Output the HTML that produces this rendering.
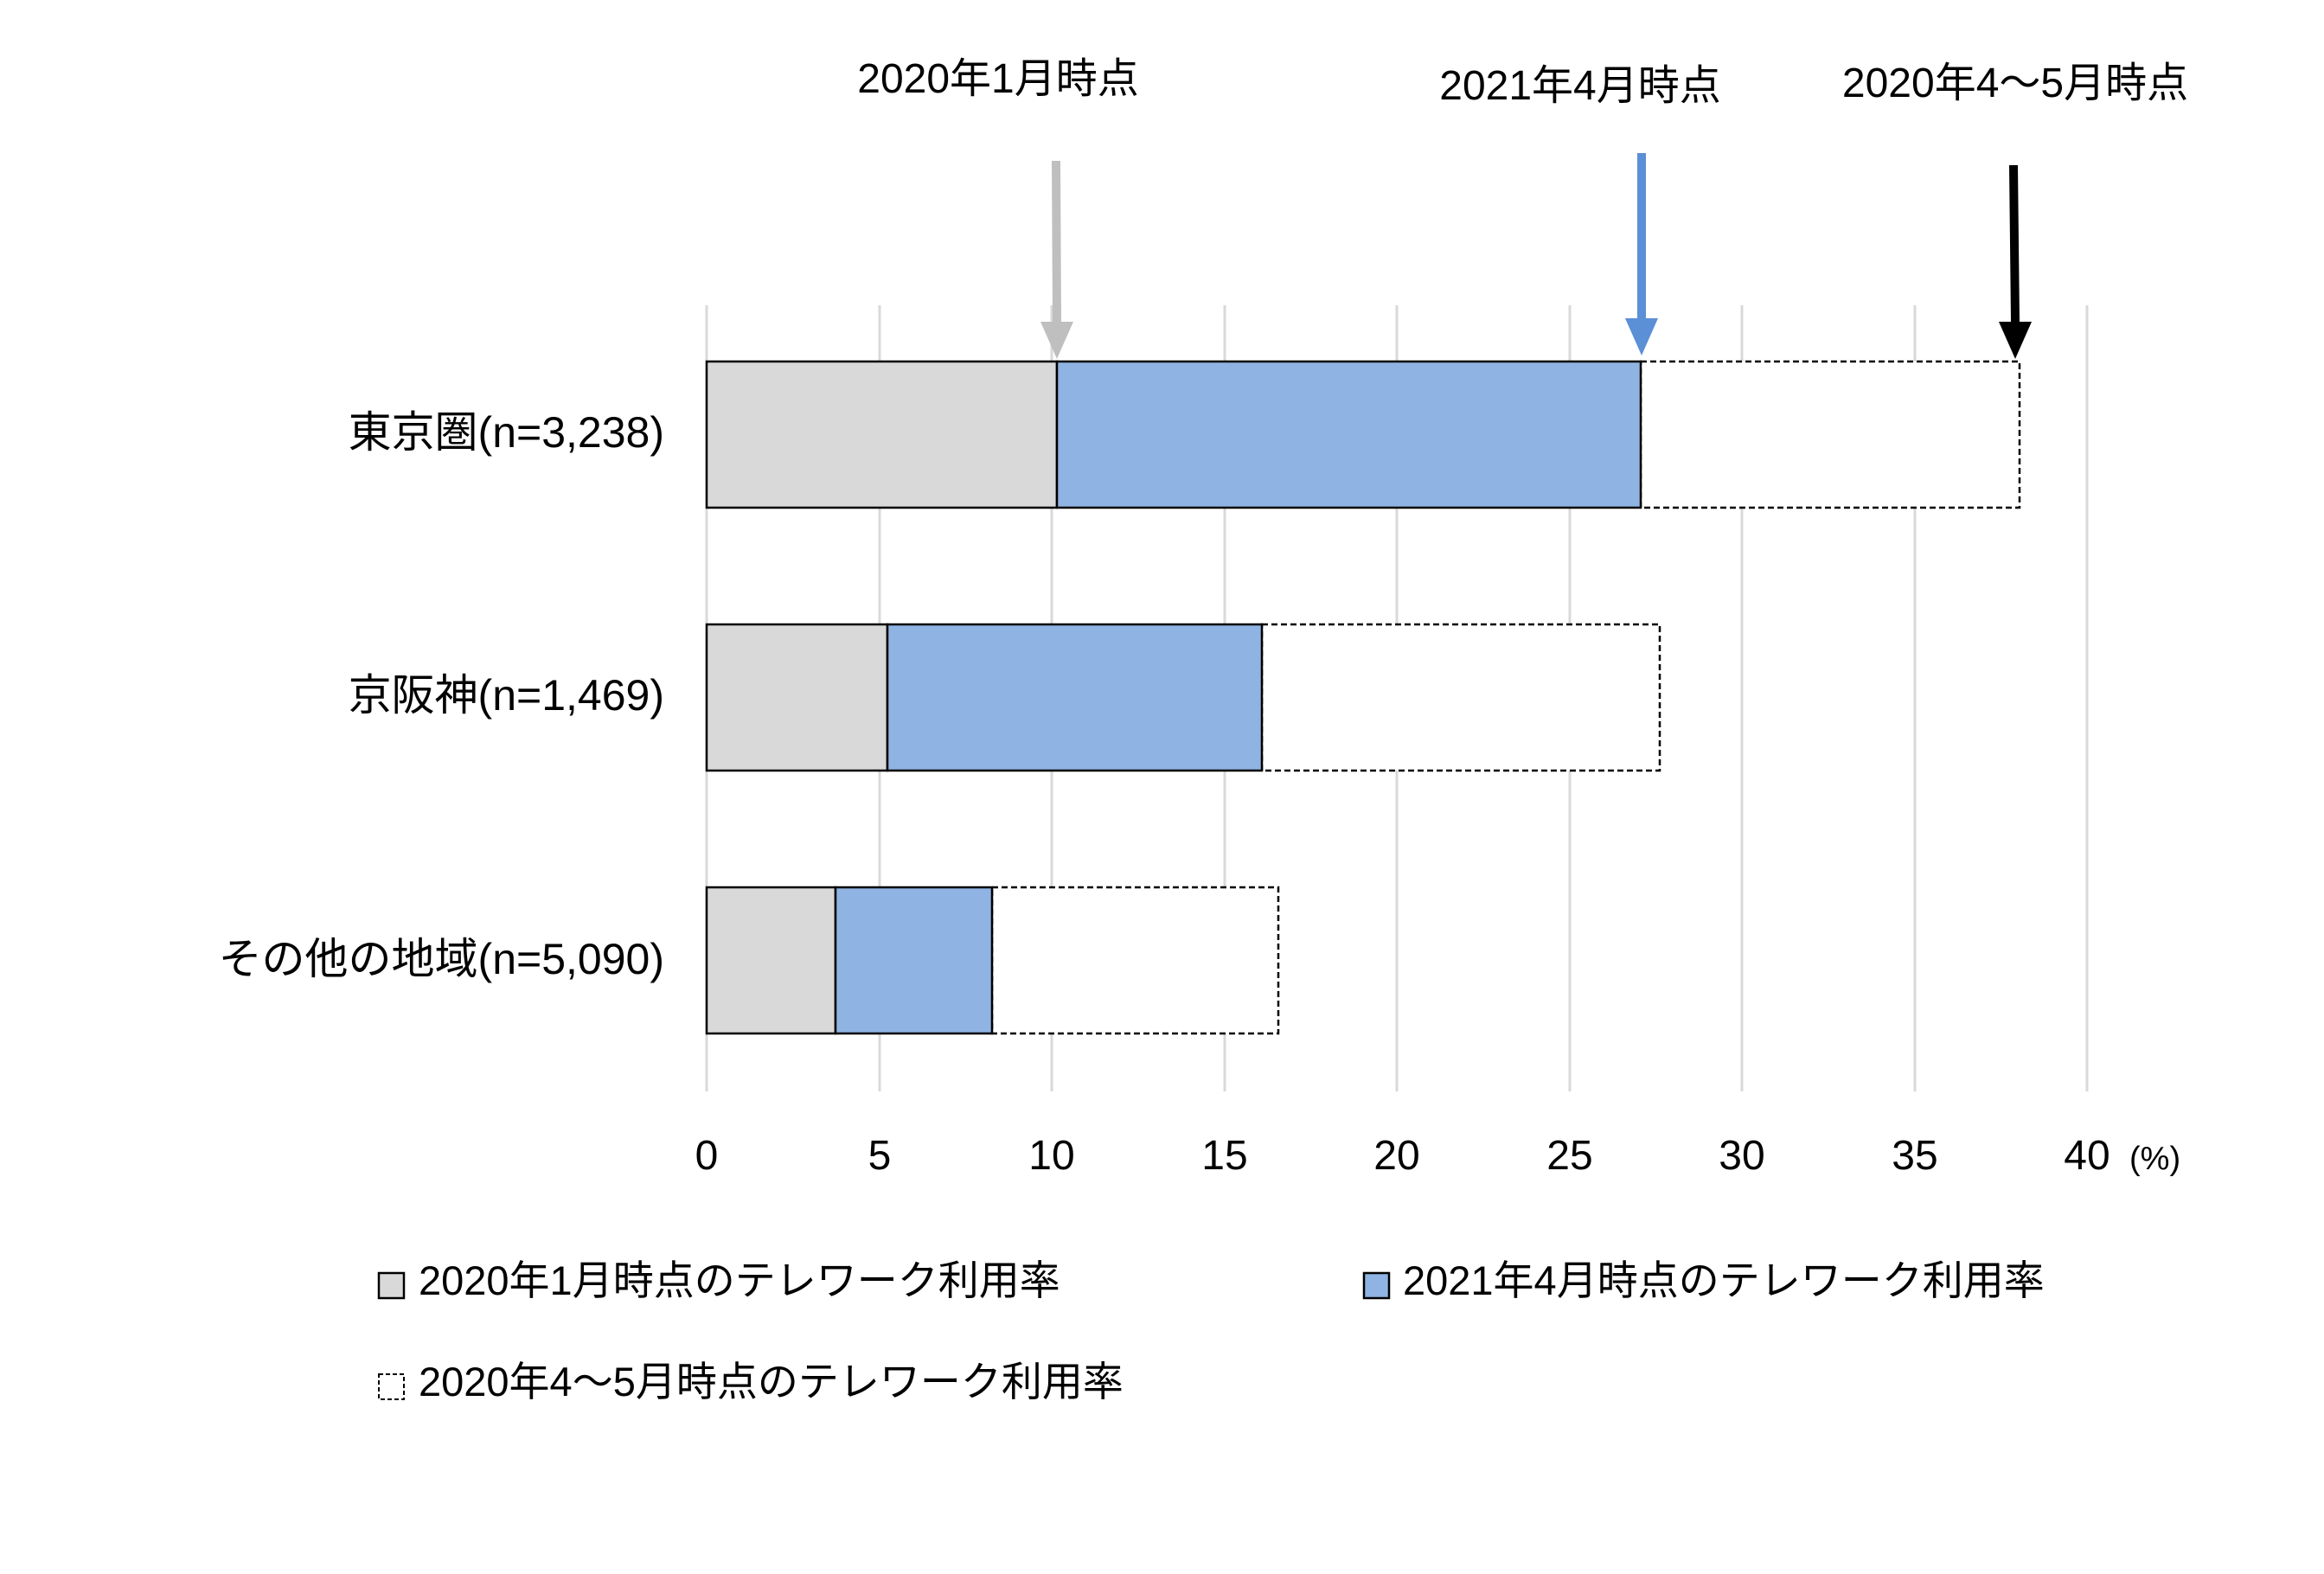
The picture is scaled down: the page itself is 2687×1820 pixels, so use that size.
<!DOCTYPE html>
<html><head><meta charset="utf-8"><style>
html,body{margin:0;padding:0;background:#fff}
svg text{font-family:"Liberation Sans","Noto Sans CJK JP",sans-serif;fill:#000}
</style></head><body>
<svg width="2687" height="1815" viewBox="0 0 2687 1815" xmlns="http://www.w3.org/2000/svg">
<rect width="2687" height="1815" fill="#fff"/>
<g stroke="#d9d9d9" stroke-width="3">
<line x1="817" y1="353" x2="817" y2="1262"/>
<line x1="1017" y1="353" x2="1017" y2="1262"/>
<line x1="1216" y1="353" x2="1216" y2="1262"/>
<line x1="1416" y1="353" x2="1416" y2="1262"/>
<line x1="1615" y1="353" x2="1615" y2="1262"/>
<line x1="1815" y1="353" x2="1815" y2="1262"/>
<line x1="2014" y1="353" x2="2014" y2="1262"/>
<line x1="2214" y1="353" x2="2214" y2="1262"/>
<line x1="2413" y1="353" x2="2413" y2="1262"/>
</g>
<g stroke="#000" stroke-width="2.5">
<rect x="1897" y="418" width="438" height="169" fill="#fff" stroke-dasharray="7,4"/>
<rect x="817" y="418" width="405" height="169" fill="#d9d9d9"/>
<rect x="1222" y="418" width="675" height="169" fill="#8fb3e2"/>
<rect x="1459" y="722" width="460" height="169" fill="#fff" stroke-dasharray="7,4"/>
<rect x="817" y="722" width="209" height="169" fill="#d9d9d9"/>
<rect x="1026" y="722" width="433" height="169" fill="#8fb3e2"/>
<rect x="1147" y="1026" width="331" height="169" fill="#fff" stroke-dasharray="7,4"/>
<rect x="817" y="1026" width="149" height="169" fill="#d9d9d9"/>
<rect x="966" y="1026" width="181" height="169" fill="#8fb3e2"/>
</g>
<line x1="1221" y1="186" x2="1222" y2="372" stroke="#bfbfbf" stroke-width="10"/>
<polygon points="1203,372 1241,372 1222,415" fill="#bfbfbf"/>
<line x1="1898" y1="177" x2="1898" y2="368" stroke="#5b8fd6" stroke-width="10"/>
<polygon points="1879,368 1917,368 1898,411" fill="#5b8fd6"/>
<line x1="2328" y1="191" x2="2330" y2="372" stroke="#000" stroke-width="10"/>
<polygon points="2311,372 2349,372 2330,415" fill="#000"/>
<g font-size="48" text-anchor="middle">
<text x="1154" y="107">2020年1月時点</text>
<text x="1827" y="115">2021年4月時点</text>
<text x="2330" y="112">2020年4～5月時点</text>
</g>
<g font-size="50" text-anchor="end">
<text x="768" y="517">東京圏(n=3,238)</text>
<text x="768" y="821">京阪神(n=1,469)</text>
<text x="768" y="1126">その他の地域(n=5,090)</text>
</g>
<g font-size="48" text-anchor="middle">
<text x="817" y="1352">0</text>
<text x="1017" y="1352">5</text>
<text x="1216" y="1352">10</text>
<text x="1416" y="1352">15</text>
<text x="1615" y="1352">20</text>
<text x="1815" y="1352">25</text>
<text x="2014" y="1352">30</text>
<text x="2214" y="1352">35</text>
<text x="2413" y="1352">40</text>
</g>
<text x="2462" y="1352" font-size="38">(%)</text>
<rect x="438" y="1472" width="29" height="29" fill="#d9d9d9" stroke="#000" stroke-width="2.5"/>
<text x="484" y="1497" font-size="47">2020年1月時点のテレワーク利用率</text>
<rect x="1577" y="1472" width="29" height="29" fill="#8fb3e2" stroke="#000" stroke-width="2.5"/>
<text x="1622" y="1497" font-size="47">2021年4月時点のテレワーク利用率</text>
<rect x="438" y="1589" width="29" height="29" fill="#fff" stroke="#000" stroke-width="2" stroke-dasharray="5,3"/>
<text x="484" y="1614" font-size="47">2020年4～5月時点のテレワーク利用率</text>
</svg>
</body></html>
